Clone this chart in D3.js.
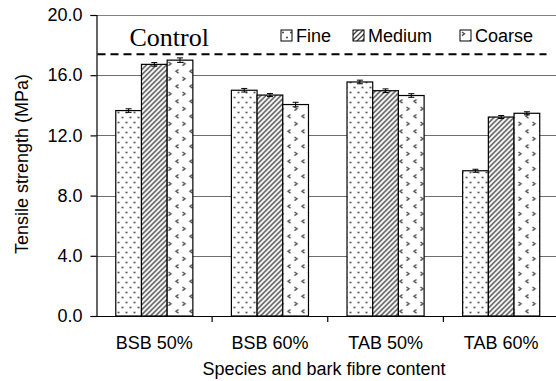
<!DOCTYPE html>
<html>
<head>
<meta charset="utf-8">
<script src="https://cdn.jsdelivr.net/npm/d3@7"></script>
<style>
body { margin: 0; background: #fff; }
svg { display: block; }
text { font-family: "Liberation Sans", Arial, sans-serif; fill: #000; }
</style>
</head>
<body>
<svg id="chart" width="556" height="381"></svg>
<script>
var categories = ["BSB 50%", "BSB 60%", "TAB 50%", "TAB 60%"];
var sizes = ["Fine", "Medium", "Coarse"];
var fine = [13.65, 15.0, 15.55, 9.65];
var medium = [16.72, 14.68, 14.97, 13.22];
var coarse = [17.0, 14.05, 14.65, 13.47];
var errFine = [0.12, 0.12, 0.12, 0.1];
var errMedium = [0.12, 0.1, 0.12, 0.1];
var errCoarse = [0.15, 0.15, 0.12, 0.1];
var controlValue = 17.4;
var yTicks = [0, 4, 8, 12, 16, 20];

var margin = {top: 15, right: -3, bottom: 65, left: 96.5};

var svg = d3.select("#chart");
var width = 556 - margin.left - margin.right;
var height = 381 - margin.top - margin.bottom;
var g = svg.append("g").attr("transform", "translate(" + margin.left + "," + margin.top + ")");

var defs = svg.append("defs");

// fine: staggered dots
var pFine = defs.append("pattern").attr("id", "pFine")
	.attr("patternUnits", "userSpaceOnUse").attr("width", 8).attr("height", 10);
pFine.append("rect").attr("width", 8).attr("height", 10).attr("fill", "#fff");
pFine.append("circle").attr("cx", 2).attr("cy", 2.5).attr("r", 0.9).attr("fill", "#333");
pFine.append("circle").attr("cx", 6).attr("cy", 7.5).attr("r", 0.9).attr("fill", "#333");

// medium: diagonal lines
var pMed = defs.append("pattern").attr("id", "pMed")
	.attr("patternUnits", "userSpaceOnUse").attr("width", 5).attr("height", 5);
pMed.append("rect").attr("width", 5).attr("height", 5).attr("fill", "#fff");
pMed.append("path").attr("d", "M-1,6 L6,-1 M-1,1 L1,-1 M4,6 L6,4")
	.attr("stroke", "#444").attr("stroke-width", 1.4);

// coarse: scattered chevrons
var pCoarse = defs.append("pattern").attr("id", "pCoarse")
	.attr("patternUnits", "userSpaceOnUse").attr("width", 14).attr("height", 15);
pCoarse.append("rect").attr("width", 14).attr("height", 15).attr("fill", "#fff");
pCoarse.append("path").attr("d", "M2,2 L4.5,3.8 L2,5.6")
	.attr("fill", "none").attr("stroke", "#444").attr("stroke-width", 1.3);
pCoarse.append("path").attr("d", "M12,9.5 L9.5,11.3 L12,13.1")
	.attr("fill", "none").attr("stroke", "#444").attr("stroke-width", 1.3);

var fills = {Fine: "url(#pFine)", Medium: "url(#pMed)", Coarse: "url(#pCoarse)"};

var x0 = d3.scaleBand().domain(categories).range([0, width]).padding(0);
var x1 = d3.scaleBand().domain(sizes).range([0, x0.bandwidth()]).paddingInner(0).paddingOuter(0.75);
var y = d3.scaleLinear().domain([0, 20]).range([height, 0]);

// grid lines
g.append("g").selectAll("line")
	.data(yTicks.filter(function(d){ return d > 0; }))
	.enter().append("line")
	.attr("x1", 0).attr("x2", width)
	.attr("y1", function(d){ return Math.round(y(d)) + 0.5; })
	.attr("y2", function(d){ return Math.round(y(d)) + 0.5; })
	.attr("stroke", "#6e6e6e").attr("stroke-width", 1.2);

var rows = [];
categories.forEach(function(c, i){
	rows.push({cat: c, size: "Fine", v: fine[i], e: errFine[i]});
	rows.push({cat: c, size: "Medium", v: medium[i], e: errMedium[i]});
	rows.push({cat: c, size: "Coarse", v: coarse[i], e: errCoarse[i]});
});

g.selectAll(".bar")
	.data(rows)
	.enter().append("rect")
	.attr("class", "bar")
	.attr("x", function(d){ return x0(d.cat) + x1(d.size); })
	.attr("y", function(d){ return y(d.v); })
	.attr("width", x1.bandwidth())
	.attr("height", function(d){ return height - y(d.v); })
	.attr("fill", function(d){ return fills[d.size]; })
	.attr("stroke", "#000").attr("stroke-width", 1.2);

// error bars
var eb = g.selectAll(".err").data(rows).enter().append("g").attr("class", "err")
	.attr("transform", function(d){ return "translate(" + (x0(d.cat) + x1(d.size) + x1.bandwidth() / 2) + ",0)"; });
eb.append("line").attr("x1", 0).attr("x2", 0)
	.attr("y1", function(d){ return y(d.v + d.e); })
	.attr("y2", function(d){ return y(d.v - d.e); })
	.attr("stroke", "#000").attr("stroke-width", 1);
eb.append("line").attr("x1", -3).attr("x2", 3)
	.attr("y1", function(d){ return y(d.v + d.e); })
	.attr("y2", function(d){ return y(d.v + d.e); })
	.attr("stroke", "#000").attr("stroke-width", 1);
eb.append("line").attr("x1", -3).attr("x2", 3)
	.attr("y1", function(d){ return y(d.v - d.e); })
	.attr("y2", function(d){ return y(d.v - d.e); })
	.attr("stroke", "#000").attr("stroke-width", 1);

// top border
g.append("line").attr("x1", 0).attr("x2", width).attr("y1", 0.5).attr("y2", 0.5)
	.attr("stroke", "#808080").attr("stroke-width", 1.2);

// control line
g.append("line")
	.attr("x1", 1).attr("x2", 450)
	.attr("y1", y(controlValue)).attr("y2", y(controlValue))
	.attr("stroke", "#000").attr("stroke-width", 2)
	.attr("stroke-dasharray", "8,5");

g.append("text")
	.attr("x", 33).attr("y", y(controlValue) - 8)
	.style("font-family", "'Liberation Serif', 'Times New Roman', serif")
	.style("font-size", "26px")
	.text("Control");

// y axis
var yAxis = g.append("g")
	.call(d3.axisLeft(y).tickValues(yTicks).tickFormat(d3.format(".1f")).tickSize(6).tickPadding(8));
yAxis.select(".domain").attr("stroke", "#000").attr("stroke-width", 1.2);
yAxis.selectAll(".tick line").attr("stroke", "#000").attr("stroke-width", 1.2);
yAxis.selectAll("text").style("font-size", "18px").style("font-family", "'Liberation Sans', Arial, sans-serif");

// x axis
var xAxis = g.append("g")
	.attr("transform", "translate(0," + height + ")")
	.call(d3.axisBottom(x0).tickSize(0).tickPadding(20).tickSizeOuter(0));
xAxis.select(".domain").attr("stroke", "#000").attr("stroke-width", 1.2);
xAxis.selectAll("text").style("font-size", "18px").style("font-family", "'Liberation Sans', Arial, sans-serif");

g.append("g").selectAll("line")
	.data(categories.slice(1))
	.enter().append("line")
	.attr("x1", function(d){ return x0(d); })
	.attr("x2", function(d){ return x0(d); })
	.attr("y1", height).attr("y2", height + 6)
	.attr("stroke", "#000").attr("stroke-width", 1.2);

// axis titles
svg.append("text")
	.attr("transform", "translate(28,164) rotate(-90)")
	.attr("text-anchor", "middle")
	.style("font-size", "18px")
	.text("Tensile strength (MPa)");

svg.append("text")
	.attr("x", 324).attr("y", 375)
	.attr("text-anchor", "middle")
	.style("font-size", "18px")
	.text("Species and bark fibre content");

// legend
var legendX = [281, 353, 460];
var legend = svg.append("g").selectAll("g")
	.data(sizes)
	.enter().append("g")
	.attr("transform", function(d, i){ return "translate(" + legendX[i] + ",30)"; });
legend.append("rect")
	.attr("width", 11).attr("height", 11)
	.attr("fill", function(d){ return fills[d]; })
	.attr("stroke", "#000").attr("stroke-width", 1);
legend.append("text")
	.attr("x", 15).attr("y", 12)
	.style("font-size", "18px")
	.text(function(d){ return d; });
</script>
</body>
</html>
